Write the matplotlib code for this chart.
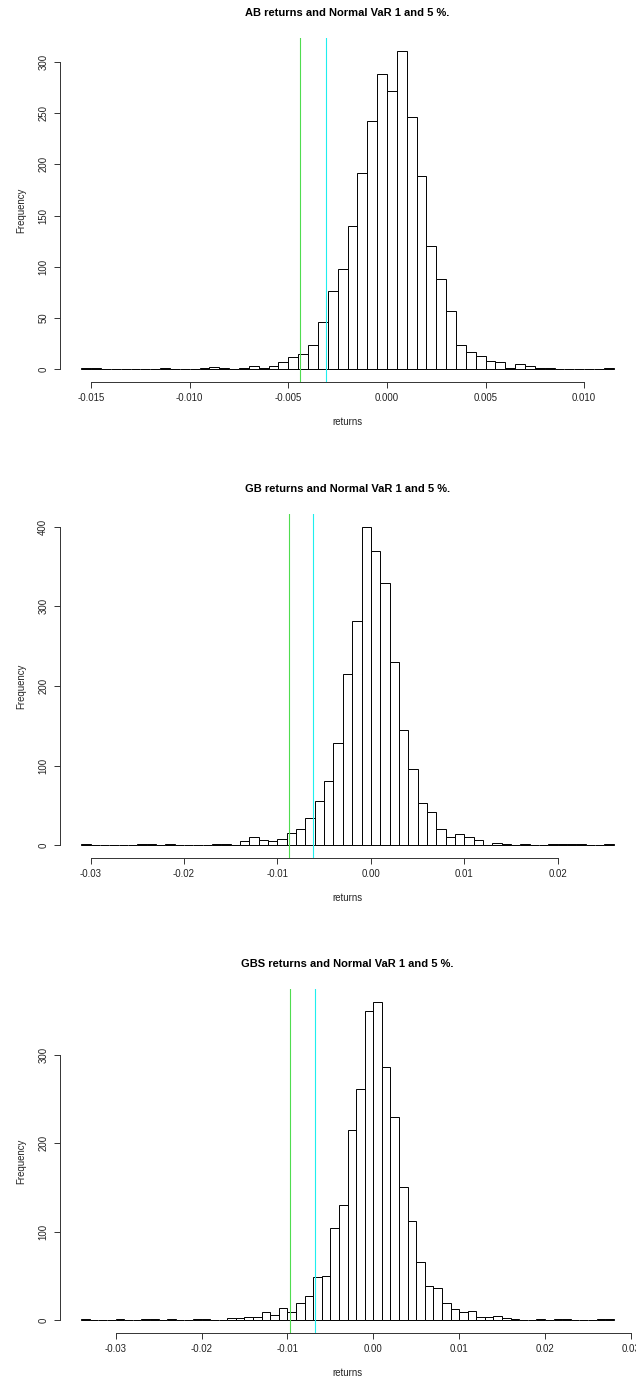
"""Histograms of daily returns with normal VaR 1 and 5 % lines."""

import matplotlib
matplotlib.use("Agg")
import matplotlib.pyplot as plt
import numpy as np

plt.rcParams["font.family"] = ["Liberation Sans", "DejaVu Sans"]
plt.rcParams["axes.unicode_minus"] = False

# each histogram: left edge of the first bin, bin width, counts per bin
AB_START = -0.0155
AB_WIDTH = 0.0005
AB_COUNTS = [1, 1, 0, 0, 0, 0, 0, 0, 1, 0,
             0, 0, 1, 2, 1, 0, 1, 3, 1, 3,
             7, 12, 15, 24, 46, 76, 98, 140, 192, 242,
             288, 272, 311, 246, 189, 120, 88, 57, 24, 17,
             13, 8, 7, 1, 5, 3, 1, 1, 0, 0,
             0, 0, 0, 1]
AB_VAR = [-0.00443, -0.00307]  # 1 %, 5 %
AB_XTICKS = [-0.015, -0.010, -0.005, 0.000, 0.005, 0.010]
AB_YTICKS = [0, 50, 100, 150, 200, 250, 300]

GB_START = -0.031
GB_WIDTH = 0.001
GB_COUNTS = [1, 0, 0, 0, 0, 0, 2, 1, 0, 1,
             0, 0, 0, 0, 2, 1, 0, 5, 11, 7,
             5, 8, 16, 21, 34, 56, 81, 128, 215, 282,
             400, 370, 329, 230, 145, 96, 53, 42, 21, 11,
             14, 10, 7, 0, 3, 1, 0, 1, 0, 0,
             1, 1, 1, 1, 0, 0, 1]
GB_VAR = [-0.00876, -0.00618]
GB_XTICKS = [-0.03, -0.02, -0.01, 0.00, 0.01, 0.02]
GB_YTICKS = [0, 100, 200, 300, 400]

GBS_START = -0.034
GBS_WIDTH = 0.001
GBS_COUNTS = [1, 0, 0, 0, 1, 0, 0, 1, 1, 0,
              1, 0, 0, 1, 1, 0, 0, 2, 2, 4,
              4, 9, 6, 14, 9, 20, 27, 49, 50, 104,
              130, 215, 261, 349, 360, 286, 230, 151, 112, 66,
              39, 36, 20, 13, 9, 10, 4, 4, 5, 2,
              1, 0, 0, 1, 0, 1, 1, 0, 0, 0,
              1, 1]
GBS_VAR = [-0.00973, -0.00682]
GBS_XTICKS = [-0.03, -0.02, -0.01, 0.00, 0.01, 0.02, 0.03]
GBS_YTICKS = [0, 100, 200, 300]

NAMES = ["AB", "GB", "GBS"]

W, H = 636, 1378
LEFT, RIGHT = 60, 635
TOPS = [38, 514, 989]
PANEL_H = 344


def draw_panel(fig, top, name, start, width, counts, var, xticks, yticks, decimals):
    ax = fig.add_axes([LEFT / W, 1 - (top + PANEL_H) / H, (RIGHT - LEFT) / W, PANEL_H / H])
    counts = np.asarray(counts)
    edges = start + width * np.arange(len(counts) + 1)
    ax.bar(edges[:-1], counts, width=width, align="edge",
           facecolor="white", edgecolor="black", linewidth=0.7)

    lo, hi = edges[0], edges[-1]
    pad = 0.04 * (hi - lo)
    ax.set_xlim(lo - pad, hi + pad)
    top_count = counts.max()
    ax.set_ylim(-0.04 * top_count, 1.04 * top_count)

    ax.axvline(var[0], color="#4fdc4f", linewidth=0.8, snap=True)
    ax.axvline(var[1], color="#1eeeee", linewidth=0.8, snap=True)

    for side in ("top", "right"):
        ax.spines[side].set_visible(False)
    ax.spines["left"].set_bounds(yticks[0], yticks[-1])
    ax.spines["bottom"].set_bounds(xticks[0], xticks[-1])
    for side in ("left", "bottom"):
        ax.spines[side].set_linewidth(0.7)
        ax.spines[side].set_color("#333333")

    ax.set_xticks(xticks)
    ax.set_xticklabels([f"{v:.{decimals}f}" for v in xticks])
    ax.set_yticks(yticks)
    ax.set_yticklabels([str(v) for v in yticks], rotation=90, va="center")
    ax.tick_params(axis="both", length=4.5, width=0.7, color="#333333",
                   labelsize=6.9, labelcolor="#222222")
    ax.tick_params(axis="x", pad=3.5)
    ax.tick_params(axis="y", pad=4)

    fig.text((LEFT + RIGHT) / 2 / W, 1 - (top - 25) / H,
             f"{name} returns and Normal VaR 1 and 5 %.",
             ha="center", va="center", fontsize=8, fontweight="bold")
    fig.text((LEFT + RIGHT) / 2 / W, 1 - (top + PANEL_H + 40) / H, "returns",
             ha="center", va="center", fontsize=6.9, color="#222222")
    fig.text(21 / W, 1 - (top + PANEL_H / 2) / H, "Frequency", rotation=90,
             ha="center", va="center", fontsize=6.9, color="#222222")
    return ax


def main():
    fig = plt.figure(figsize=(W / 100, H / 100), dpi=100)
    draw_panel(fig, TOPS[0], NAMES[0], AB_START, AB_WIDTH, AB_COUNTS, AB_VAR,
               AB_XTICKS, AB_YTICKS, 3)
    draw_panel(fig, TOPS[1], NAMES[1], GB_START, GB_WIDTH, GB_COUNTS, GB_VAR,
               GB_XTICKS, GB_YTICKS, 2)
    draw_panel(fig, TOPS[2], NAMES[2], GBS_START, GBS_WIDTH, GBS_COUNTS, GBS_VAR,
               GBS_XTICKS, GBS_YTICKS, 2)
    fig.savefig("out.png", dpi=100)
    plt.close(fig)


if __name__ == "__main__":
    main()
